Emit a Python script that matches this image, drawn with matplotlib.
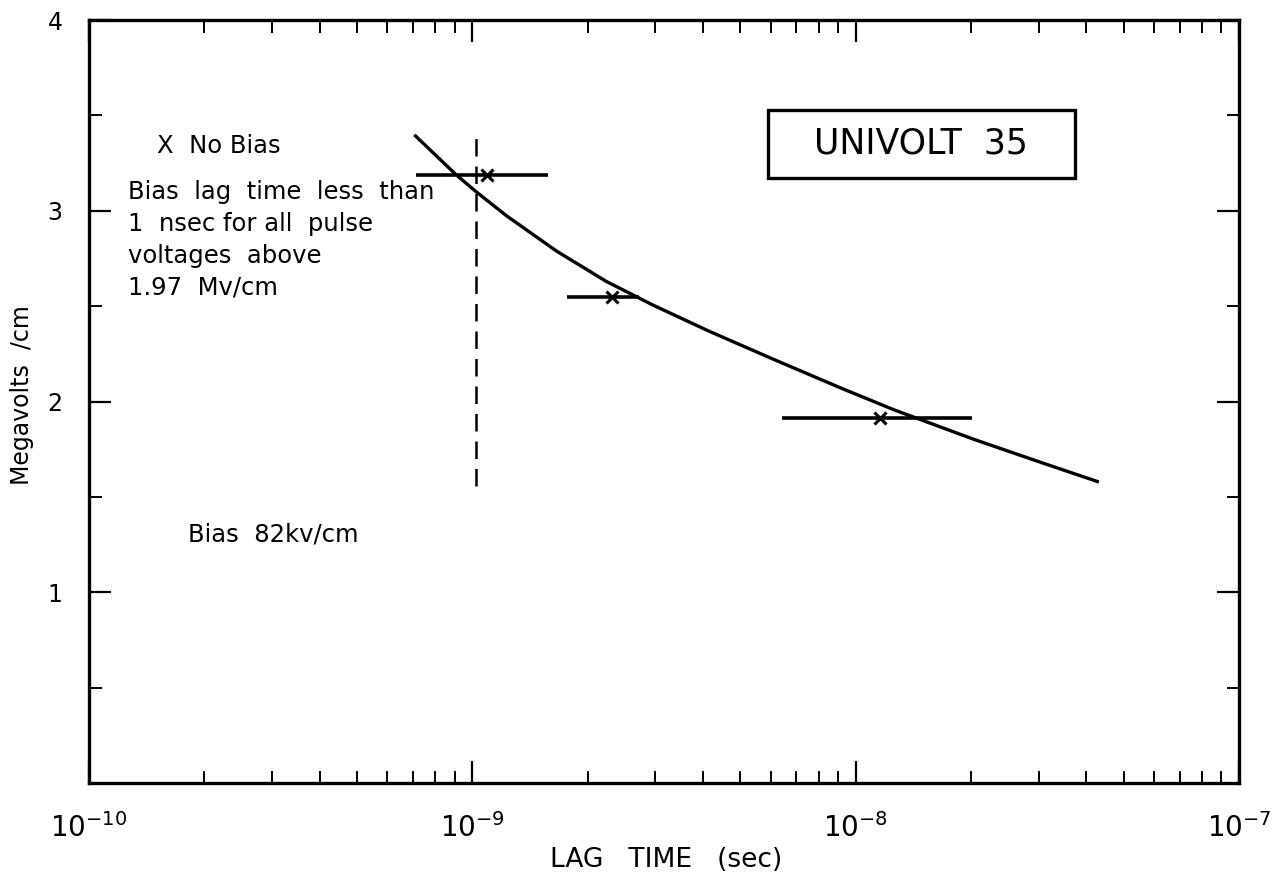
import numpy as np
import matplotlib
matplotlib.use("Agg")
import matplotlib.pyplot as plt
from matplotlib.patches import Rectangle
from matplotlib.ticker import LogLocator, FixedLocator, NullFormatter

# ---- data ----
curve_t = [7.06e-10, 9.08e-10, 1.024e-9, 1.227e-9, 1.657e-9, 2.238e-9, 2.97e-9,
           4.13e-9, 6.14e-9, 9.19e-9, 1.264e-8, 2.045e-8, 3.06e-8, 4.31e-8]
curve_v = [3.398, 3.188, 3.099, 2.974, 2.789, 2.629, 2.504,
           2.370, 2.219, 2.069, 1.955, 1.800, 1.679, 1.578]

pt_t = [1.094e-9, 2.31e-9, 1.16e-8]
pt_v = [3.19, 2.55, 1.916]
pt_lo = [7.15e-10, 1.77e-9, 6.41e-9]
pt_hi = [1.58e-9, 2.72e-9, 2.01e-8]

dash_t = [1.02e-9, 1.02e-9]
dash_v = [1.555, 3.40]

y_major = [1, 2, 3, 4]
y_minor = [0.5, 1.5, 2.5, 3.5]
x_major = [1e-10, 1e-9, 1e-8, 1e-7]
x_labels = [r"$10^{-10}$", r"$10^{-9}$", r"$10^{-8}$", r"$10^{-7}$"]

fig = plt.figure(figsize=(12.75, 8.83), dpi=100)
ax = fig.add_axes([89/1275, 1-783/883, 1150/1275, 763/883])

ax.set_xscale("log")
ax.set_xlim(1e-10, 1e-7)
ax.set_ylim(0, 4)

ax.plot(curve_t, curve_v, color="black", lw=2.4, solid_capstyle="butt",
        solid_joinstyle="round")
xerr = [np.array(pt_t) - np.array(pt_lo), np.array(pt_hi) - np.array(pt_t)]
ax.errorbar(pt_t, pt_v, xerr=xerr, fmt="x", color="black", ms=9, mew=2.2,
            elinewidth=2.6, capsize=0)
ax.plot(dash_t, dash_v, color="black", lw=1.8, linestyle=(0, (7, 4)))

# ticks
ax.xaxis.set_major_locator(FixedLocator(x_major))
ax.set_xticklabels(x_labels)
ax.xaxis.set_minor_locator(LogLocator(base=10, subs=np.arange(2, 10)))
ax.xaxis.set_minor_formatter(NullFormatter())
ax.yaxis.set_major_locator(FixedLocator(y_major))
ax.set_yticklabels([str(v) for v in y_major])
ax.yaxis.set_minor_locator(FixedLocator(y_minor))
ax.tick_params(axis="both", which="major", direction="in", length=16, width=1.6,
               top=True, right=True, color="black")
ax.tick_params(axis="both", which="minor", direction="in", length=9, width=1.4,
               top=True, right=True, color="black")
ax.tick_params(axis="y", which="major", pad=19, labelsize=17)
ax.tick_params(axis="x", which="major", pad=22, labelsize=20)
for s in ax.spines.values():
    s.set_linewidth(2.4)

# annotations
fs = 17.5
ax.text((157-89)/1150, 0.835, "X  No Bias", transform=ax.transAxes, fontsize=fs,
        va="center", ha="left")
ax.text((128-89)/1150, (783-180)/763,
        "Bias  lag  time  less  than\n1  nsec for all  pulse\nvoltages  above\n1.97  Mv/cm",
        transform=ax.transAxes, fontsize=fs, va="top", ha="left", linespacing=1.42)
ax.text((188-89)/1150, 0.326, "Bias  82kv/cm", transform=ax.transAxes, fontsize=fs,
        va="center", ha="left")
ax.add_patch(Rectangle(((768-89)/1150, (783-178)/763), (1075-768)/1150, 68/763,
                       transform=ax.transAxes, fill=False, ec="black", lw=2.4))
ax.text((921-89)/1150, (783-144)/763, "UNIVOLT  35", transform=ax.transAxes,
        fontsize=25, va="center", ha="center")

fig.text(22/1275, 1-395/883, "Megavolts  /cm", rotation=90, fontsize=17,
         va="center", ha="center")
fig.text(666/1275, 1-860/883, "LAG   TIME   (sec)", fontsize=19,
         va="center", ha="center")

fig.savefig("out.png", dpi=100)
